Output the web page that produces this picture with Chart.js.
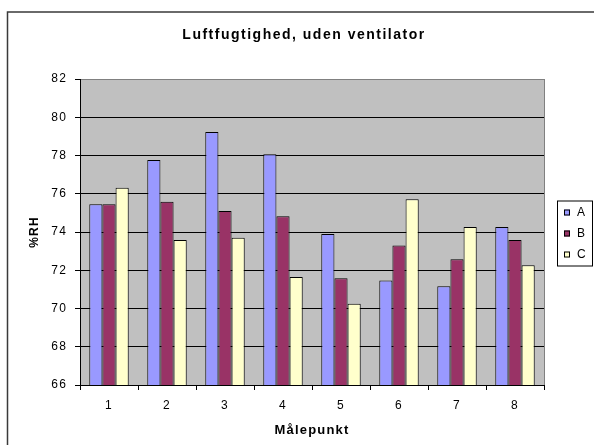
<!DOCTYPE html>
<html>
<head>
<meta charset="utf-8">
<title>Luftfugtighed, uden ventilator</title>
<script src="https://cdn.jsdelivr.net/npm/chart.js@4"></script>
<style>
  html, body { margin: 0; padding: 0; background: #fff; }
  canvas { display: block; }
</style>
</head>
<body>
<canvas id="rhChart" width="594" height="445"></canvas>
<script>
const malepunkter = ['1', '2', '3', '4', '5', '6', '7', '8'];
const serieA = [75.45, 77.76, 79.23, 78.06, 73.90, 71.47, 71.16, 74.26];
const serieB = [75.45, 75.58, 75.10, 74.82, 71.58, 73.30, 72.57, 73.58];
const serieC = [76.32, 73.58, 73.70, 71.65, 70.25, 75.71, 74.26, 72.26];
const yMin = 66, yMax = 82, yStep = 2;
const chartTitle = 'Luftfugtighed, uden ventilator';

const fontFamily = '"Liberation Sans", Arial, sans-serif';

// frame, grey plot area, title and the boxed legend on the right
const excelLook = {
    id: 'excelLook',
    beforeDraw(chart) {
        const ctx = chart.ctx;
        const a = chart.chartArea;
        ctx.save();
        ctx.fillStyle = '#fff';
        ctx.fillRect(0, 0, chart.width, chart.height);
        ctx.strokeStyle = '#3a3a3a';
        ctx.lineWidth = 1.5;
        ctx.strokeRect(7.5, 12, chart.width + 20, chart.height + 20);
        ctx.fillStyle = '#c0c0c0';
        ctx.fillRect(a.left, a.top, a.right - a.left, a.bottom - a.top);
        ctx.restore();
        ctx.letterSpacing = '1.2px';
    },
    afterDraw(chart) {
        const ctx = chart.ctx;
        const a = chart.chartArea;
        ctx.save();
        ctx.strokeStyle = '#808080';
        ctx.lineWidth = 1;
        ctx.beginPath();
        ctx.moveTo(a.right + 0.5, a.top);
        ctx.lineTo(a.right + 0.5, a.bottom);
        ctx.stroke();

        // title
        ctx.fillStyle = '#000';
        ctx.font = 'bold 14px ' + fontFamily;
        ctx.textAlign = 'center';
        ctx.textBaseline = 'middle';
        ctx.letterSpacing = '1.5px';
        ctx.fillText(chartTitle, 304, 35.5);
        ctx.letterSpacing = '1.2px';

        // legend
        const bx = 557.5, by = 201, bw = 35, bh = 65;
        ctx.strokeStyle = '#000';
        ctx.strokeRect(bx, by, bw, bh);
        ctx.font = '12px ' + fontFamily;
        ctx.textBaseline = 'middle';
        ctx.textAlign = 'left';
        chart.data.datasets.forEach((ds, i) => {
            const cy = 212.5 + i * 21;
            ctx.fillStyle = ds.backgroundColor;
            ctx.fillRect(564, cy - 3, 6, 6);
            ctx.strokeStyle = '#000';
            ctx.strokeRect(564.5, cy - 2.5, 5, 5);
            ctx.fillStyle = '#000';
            ctx.fillText(ds.label, 577, cy + 0.5);
        });
        ctx.restore();
        ctx.letterSpacing = '0px';
    }
};

new Chart(document.getElementById('rhChart'), {
    type: 'bar',
    data: {
        labels: malepunkter,
        datasets: [
            { label: 'A', data: serieA, backgroundColor: '#9999ff' },
            { label: 'B', data: serieB, backgroundColor: '#993366' },
            { label: 'C', data: serieC, backgroundColor: '#ffffcc' }
        ]
    },
    options: {
        responsive: false,
        animation: false,
        layout: { padding: { left: 0, right: 50, top: 79, bottom: 0 } },
        datasets: {
            bar: {
                borderColor: '#000',
                borderWidth: 1,
                categoryPercentage: 0.68,
                barPercentage: 1
            }
        },
        plugins: {
            legend: { display: false },
            tooltip: { enabled: false },
            title: { display: false }
        },
        scales: {
            x: {
                afterFit(scale) { scale.height = 60; },
                grid: {
                    offset: true,
                    drawOnChartArea: false,
                    drawTicks: true,
                    tickLength: 5,
                    tickColor: '#000'
                },
                border: { color: '#000' },
                ticks: {
                    color: '#000',
                    padding: 8,
                    font: { family: fontFamily, size: 12 }
                },
                title: {
                    display: true,
                    text: 'Målepunkt',
                    color: '#000',
                    font: { family: fontFamily, size: 13, weight: 'bold' },
                    padding: { top: 0, bottom: 7 }
                }
            },
            y: {
                min: yMin,
                max: yMax,
                afterFit(scale) { scale.width = 80; },
                grid: {
                    color: ctx => ctx.tick && ctx.tick.value === yMax ? '#808080' : '#000',
                    tickLength: 5,
                    tickColor: '#000'
                },
                border: { color: '#000' },
                ticks: {
                    stepSize: yStep,
                    color: '#000',
                    padding: 8,
                    font: { family: fontFamily, size: 12 }
                },
                title: {
                    display: true,
                    text: '%RH',
                    color: '#000',
                    font: { family: fontFamily, size: 12, weight: 'bold' },
                    padding: { top: 27, bottom: 0 }
                }
            }
        }
    },
    plugins: [excelLook]
});
</script>
</body>
</html>
